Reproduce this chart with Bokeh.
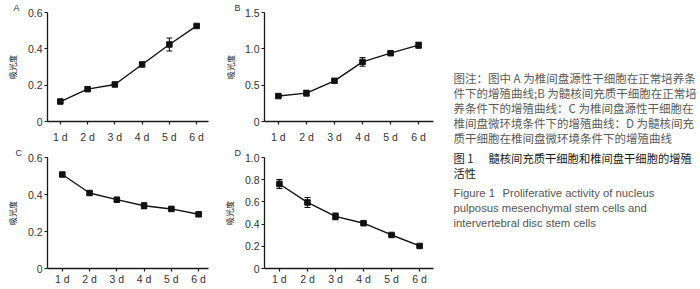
from bokeh.plotting import figure
from bokeh.layouts import row, column
from bokeh.models import ColumnDataSource, Whisker, TeeHead, FixedTicker, Range1d
from bokeh.core.properties import value
from bokeh.embed import file_html
from bokeh.resources import INLINE

# ---------------- data ----------------
days = [1, 2, 3, 4, 5, 6]
day_labels = ["1 d", "2 d", "3 d", "4 d", "5 d", "6 d"]

a_mean = [0.110, 0.178, 0.204, 0.314, 0.424, 0.526]
a_err = [0.008, 0.006, 0.005, 0.008, 0.036, 0.008]

b_mean = [0.350, 0.390, 0.560, 0.820, 0.940, 1.050]
b_err = [0.020, 0.040, 0.020, 0.060, 0.010, 0.040]

c_mean = [0.508, 0.408, 0.372, 0.339, 0.322, 0.293]
c_err = [0.008, 0.008, 0.010, 0.016, 0.010, 0.010]

d_mean = [0.761, 0.595, 0.470, 0.408, 0.302, 0.203]
d_err = [0.040, 0.045, 0.030, 0.010, 0.008, 0.010]

a_yticks = [0, 0.2, 0.4, 0.6]
a_ylabels = ["0", "0.2", "0.4", "0.6"]
b_yticks = [0, 0.5, 1.0, 1.5]
b_ylabels = ["0", "0.5", "1.0", "1.5"]
c_yticks = [0, 0.2, 0.4, 0.6]
c_ylabels = ["0", "0.2", "0.4", "0.6"]
d_yticks = [0, 0.2, 0.4, 0.6, 0.8, 1.0]
d_ylabels = ["0", "0.2", "0.4", "0.6", "0.8", "1.0"]

y_title = "吸光度"

note_lines = [
    "图注：图中 A 为椎间盘源性干细胞在正常培养条",
    "件下的增殖曲线;B 为髓核间充质干细胞在正常培",
    "养条件下的增殖曲线：C 为椎间盘源性干细胞在",
    "椎间盘微环境条件下的增殖曲线：D 为髓核间充",
    "质干细胞在椎间盘微环境条件下的增殖曲线",
]
title_cn = ["图 1", "髓核间充质干细胞和椎间盘干细胞的增殖", "活性"]
title_en = ["Figure 1", "Proliferative activity of nucleus",
            "pulposus mesenchymal stem cells and",
            "intervertebral disc stem cells"]

AX = "#1a1a1a"
LBL = "#333333"


def panel(letter, mean, err, yticks, ylabels, w, h, bl, bt, bb, br,
          xs, xe, x_standoff, letter_off, ylab_standoff):
    p = figure(width=w, height=h, output_backend="svg", toolbar_location=None,
               x_range=Range1d(xs, xe), y_range=Range1d(yticks[0], yticks[-1]),
               min_border_left=bl, min_border_top=bt, min_border_bottom=bb,
               min_border_right=br)
    p.outline_line_color = None
    p.grid.visible = False
    p.background_fill_color = "white"
    p.border_fill_color = "white"

    p.title.text = letter
    p.title.align = "left"
    p.title.offset = letter_off
    p.title.standoff = 0
    p.title.text_font = "Liberation Sans"
    p.title.text_font_size = "9px"
    p.title.text_font_style = "normal"
    p.title.text_color = LBL

    xa = p.xaxis[0]
    xa.ticker = FixedTicker(ticks=days)
    xa.major_label_overrides = {d: l for d, l in zip(days, day_labels)}
    ya = p.yaxis[0]
    ya.ticker = FixedTicker(ticks=yticks)
    ya.major_label_overrides = {t: l for t, l in zip(yticks, ylabels)}
    for ax in (xa, ya):
        ax.axis_line_color = AX
        ax.axis_line_width = 1.3
        ax.major_tick_line_color = AX
        ax.major_tick_line_width = 1.2
        ax.major_tick_out = 3
        ax.major_tick_in = 0
        ax.minor_tick_line_color = None
        ax.major_label_text_font = "Liberation Sans"
        ax.major_label_text_font_size = "10.5px"
        ax.major_label_text_color = LBL
    xa.major_label_standoff = x_standoff
    ya.major_label_standoff = 2
    ya.axis_label = y_title
    ya.axis_label_text_font = "Noto Sans CJK SC"
    ya.axis_label_text_font_size = "8px"
    ya.axis_label_text_font_style = "normal"
    ya.axis_label_text_color = "#222222"
    ya.axis_label_standoff = ylab_standoff

    src = ColumnDataSource(dict(
        x=days, y=mean,
        lower=[m - e for m, e in zip(mean, err)],
        upper=[m + e for m, e in zip(mean, err)],
    ))
    p.line("x", "y", source=src, line_color="#111111", line_width=1.4)
    p.add_layout(Whisker(base="x", lower="lower", upper="upper", source=src,
                         line_color="#111111", line_width=1.1,
                         upper_head=TeeHead(size=6, line_color="#111111", line_width=1.1),
                         lower_head=TeeHead(size=6, line_color="#111111", line_width=1.1)))
    p.scatter("x", "y", source=src, marker="square", size=5.5,
              fill_color="#111111", line_color="#111111")
    return p


pA = panel("A", a_mean, a_err, a_yticks, a_ylabels, 220, 145, 47, 12, 24, 10,
           0.529, 6.435, 6, -34, 7)
pB = panel("B", b_mean, b_err, b_yticks, b_ylabels, 220, 145, 43, 10, 24, 7,
           0.504, 6.532, 6, -30, 6)
pC = panel("C", c_mean, c_err, c_yticks, c_ylabels, 220, 144, 45, 12, 21, 12,
           0.457, 6.362, 1, -32, 7)
pD = panel("D", d_mean, d_err, d_yticks, d_ylabels, 220, 144, 43, 12, 21, 7,
           0.468, 6.496, 1, -30, 7)

# ---------------- caption ----------------
pT = figure(width=260, height=289, output_backend="svg", toolbar_location=None,
            x_range=Range1d(0, 260), y_range=Range1d(289, 0), min_border=0)
pT.axis.visible = False
pT.grid.visible = False
pT.outline_line_color = None

note_y = [77, 92, 107, 122, 137]
pT.text(x=[13] * len(note_lines), y=note_y, text=note_lines,
        text_font=value("Noto Sans CJK SC"), text_font_size=value("11.5px"),
        text_color="#5a5a5a", text_baseline="middle", text_align="left")
pT.text(x=[13, 48, 13], y=[157, 157, 172], text=title_cn,
        text_font=value("Noto Sans CJK SC"), text_font_size=value("11.3px"),
        text_color="#1a1a1a", text_baseline="middle", text_align="left")
pT.text(x=[13, 62, 13, 13], y=[192, 192, 207, 222], text=title_en,
        text_font=value("Liberation Sans"), text_font_size=value("11.3px"),
        text_color="#555555", text_baseline="middle", text_align="left")

layout = row(column(pA, pC), column(pB, pD), pT)
open("out.html", "w").write(file_html(layout, INLINE))
